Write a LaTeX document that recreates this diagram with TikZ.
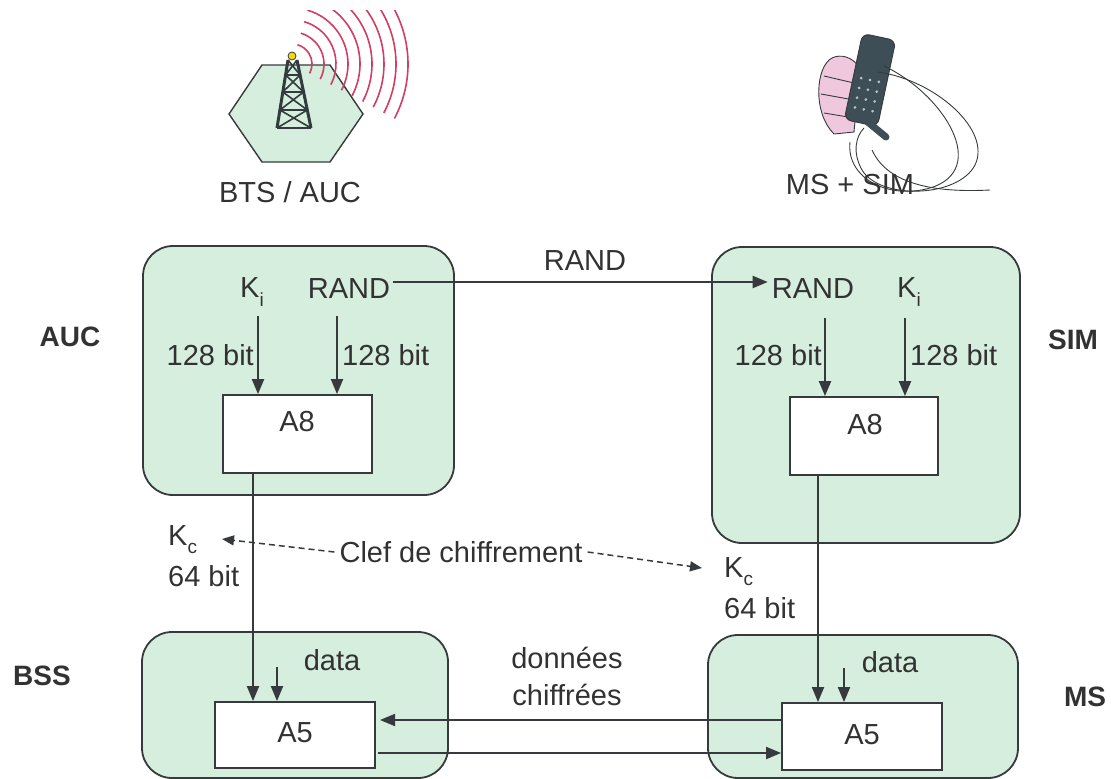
\documentclass[tikz,border=0pt]{standalone}
\usepackage{fontspec}
\setmainfont{Liberation Sans}
\usetikzlibrary{arrows.meta}
\definecolor{mint}{RGB}{214,238,222}
\definecolor{linec}{RGB}{55,58,60}
\definecolor{textc}{RGB}{50,50,50}
\definecolor{wave}{RGB}{208,62,102}
\definecolor{towerc}{RGB}{50,60,60}
\definecolor{phonec}{RGB}{62,78,86}
\definecolor{skin}{RGB}{240,200,222}
\newcommand\subidx[1]{\raisebox{-0.28em}{\fontsize{19}{19}\selectfont #1}}

\begin{document}
\begin{tikzpicture}[x=1pt,y=-1pt,
  greenbox/.style={draw=linec, fill=mint, line width=1.8pt, rounded corners=30pt, inner sep=0pt},
  algbox/.style={draw=linec, fill=white, line width=1.8pt, inner sep=0pt},
  txt/.style={inner sep=0pt, text=textc, font=\fontsize{29}{34}\selectfont},
  side/.style={inner sep=0pt, text=textc, font=\fontsize{28}{30}\selectfont\bfseries},
  arr/.style={draw=linec, line width=2pt, -{Triangle[length=15pt,width=12pt]}},
  dasharr/.style={draw=linec, line width=1.5pt, dash pattern=on 6pt off 4pt, -{Triangle[length=12pt,width=10pt]}}
]
\useasboundingbox (0,0) rectangle (1111,779);

% ---------- base station pictogram ----------
\filldraw[fill=mint, draw=linec, line width=1.4pt]
  (262,65) -- (330,65) -- (363,114) -- (330,162) -- (262,162) -- (229,114) -- cycle;
\begin{scope}
  \clip (200,10) rectangle (440,180);
  \foreach \r in {20,32,...,116}
    \draw[wave, line width=1.6pt] (292,64) ++(28:\r) arc[start angle=28, end angle=-74, radius=\r];
\end{scope}
\draw[towerc, line width=3pt] (288,60) -- (277,128) (297,60) -- (311,128);
\draw[towerc, line width=1.6pt]
  (285.6,75) -- (300.1,75) (282.8,92) -- (303.6,92) (279.9,110) -- (307.3,110) (277,128) -- (311,128)
  (288,60) -- (300.1,75) -- (282.8,92) -- (307.3,110) -- (277,128)
  (297,60) -- (285.6,75) -- (303.6,92) -- (279.9,110) -- (311,128);
\filldraw[fill=yellow!75!orange, draw=towerc, line width=0.8pt] (292,56) circle (4);
\node[txt] (bts) at (290,192) {BTS / AUC};

% ---------- mobile station pictogram ----------
\filldraw[fill=skin, draw=linec, line width=0.9pt]
  (832,58) .. controls (816,66) and (812,112) .. (834,134) -- (854,132) -- (860,68)
  .. controls (852,56) and (840,54) .. (832,58) -- cycle;
\draw[linec, line width=0.9pt] (824,76) -- (854,83) (821,94) -- (854,100) (824,113) -- (854,118);
\begin{scope}[rotate around={-12:(870,80)}]
  \filldraw[fill=phonec, draw=linec, line width=0.9pt, rounded corners=7pt] (853,36) rectangle (887,124);
  \foreach \i in {0,...,3} \foreach \j in {0,1,2}
    \fill[white!65!phonec] (861+\j*9,80+\i*10) circle (1.5);
\end{scope}
\draw[phonec, line width=7pt, line cap=round] (858,114) -- (886,137);
\draw[linec, line width=0.9pt]
  (878,72) .. controls (935,80) and (992,130) .. (975,165)
  .. controls (958,198) and (880,200) .. (862,170)
  .. controls (852,152) and (856,136) .. (864,128);
\draw[linec, line width=0.9pt]
  (884,66) .. controls (945,95) and (990,170) .. (930,188)
  .. controls (888,200) and (846,178) .. (850,142);
\draw[linec, line width=0.9pt]
  (872,150) .. controls (890,190) and (950,192) .. (990,190);
\node[txt] (mssim) at (850,185) {MS + SIM};

% ---------- side labels ----------
\node[side] (lauc) at (70,337) {AUC};
\node[side] (lsim) at (1073,340) {SIM};
\node[side] (lbss) at (42,676) {BSS};
\node[side] (lms)  at (1085,697) {MS};

% ---------- entity boxes ----------
\node[greenbox, minimum width=311pt, minimum height=249pt] (auc) at (298.5,370.5) {};
\node[greenbox, minimum width=308pt, minimum height=296pt] (sim) at (866,395) {};
\node[greenbox, minimum width=306pt, minimum height=146pt] (bss) at (295,705) {};
\node[greenbox, minimum width=310pt, minimum height=143pt] (ms)  at (863,706.5) {};

% ---------- algorithm blocks ----------
\node[algbox, minimum width=149pt, minimum height=78pt] (a8l) at (297.5,434) {};
\node[algbox, minimum width=148pt, minimum height=78pt] (a8r) at (864,436) {};
\node[algbox, minimum width=160pt, minimum height=66pt] (a5l) at (295,735) {};
\node[algbox, minimum width=160pt, minimum height=67pt] (a5r) at (862,736.5) {};
\node[txt] (a8ltxt) at (297,422) {A8};
\node[txt] (a8rtxt) at (865,425) {A8};
\node[txt] (a5ltxt) at (295,733) {A5};
\node[txt] (a5rtxt) at (862,735) {A5};

% ---------- inputs of A8 ----------
\node[txt] (kil) at (252,292) {K\subidx{i}};
\node[txt] (randl) at (349,289) {RAND};
\node[txt] (randr) at (813,289) {RAND};
\node[txt] (kir) at (909,292) {K\subidx{i}};
\node[txt, anchor=east] (bl1) at (254,355) {128 bit};
\node[txt, anchor=west] (bl2) at (342,355) {128 bit};
\node[txt, anchor=east] (br1) at (822,355) {128 bit};
\node[txt, anchor=west] (br2) at (910,355) {128 bit};
\node[txt] (randtop) at (585,261) {RAND};

\coordinate (kil-out) at (258,316);
\coordinate (randl-out) at (337,316);
\coordinate (randr-out) at (825,318);
\coordinate (kir-out) at (905,318);
\draw[arr] (kil-out) -- (kil-out |- a8l.north);
\draw[arr] (randl-out) -- (randl-out |- a8l.north);
\draw[arr] (randr-out) -- (randr-out |- a8r.north);
\draw[arr] (kir-out) -- (kir-out |- a8r.north);
\draw[arr] ([xshift=3pt,yshift=7pt]randl.east) -- ([xshift=-4pt,yshift=7pt]randr.west);

% ---------- cipher key ----------
\node[txt, anchor=west] (kcl) at (168,540) {K\subidx{c}};
\node[txt, anchor=west] (bitl) at (168,576) {64 bit};
\node[txt, anchor=west] (kcr) at (724,572) {K\subidx{c}};
\node[txt, anchor=west] (bitr) at (724,608) {64 bit};
\node[txt] (clef) at (461,552) {Clef de chiffrement};
\coordinate (kcl-tip) at (222,539);
\coordinate (kcr-tip) at (702,568);
\draw[dasharr] ([xshift=-5pt]clef.west) -- (kcl-tip);
\draw[dasharr] ([xshift=5pt]clef.east) -- (kcr-tip);

\coordinate (kl) at (253,0);
\coordinate (kr) at (818,0);
\draw[arr] (a8l.south -| kl) -- (a5l.north -| kl);
\draw[arr] (a8r.south -| kr) -- (a5r.north -| kr);

% ---------- data to cipher ----------
\node[txt] (datal) at (332,660) {data};
\node[txt] (datar) at (890,662) {data};
\coordinate (datal-in) at (277,667);
\coordinate (datar-in) at (844,668);
\draw[arr] (datal-in) -- (datal-in |- a5l.north);
\draw[arr] (datar-in) -- (datar-in |- a5r.north);

% ---------- ciphered traffic ----------
\node[txt] (donnees) at (567,658) {données};
\node[txt] (chiffrees) at (567,695) {chiffrées};
\coordinate (l-hi) at (380,720);
\coordinate (l-lo) at (378,753);
\draw[arr] (a5r.west |- l-hi) -- (l-hi);
\draw[arr] (l-lo) -- (a5r.west |- l-lo);
\end{tikzpicture}
\end{document}
